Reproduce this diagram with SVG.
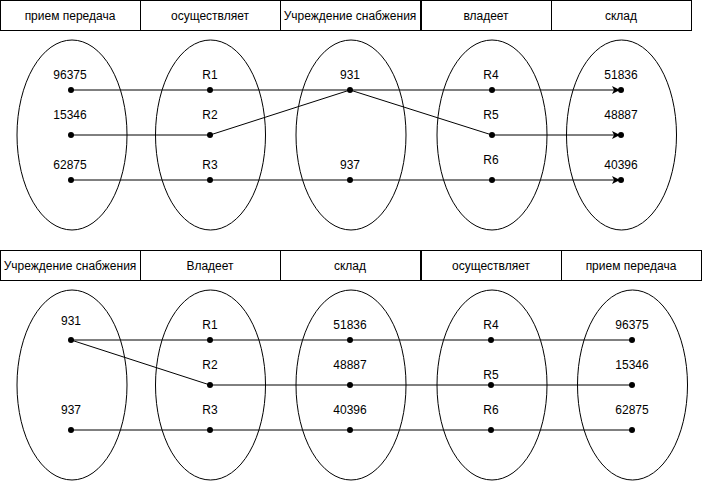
<svg xmlns="http://www.w3.org/2000/svg" width="702" height="481" viewBox="0 0 702 481">
<style>
.b{fill:#fff;stroke:#000;stroke-width:1}
.e{fill:none;stroke:#000;stroke-width:1}
.l{fill:none;stroke:#000;stroke-width:1}
.d{fill:#000}
text{font-family:"Liberation Sans",Arial,sans-serif;font-size:12px;fill:#000;text-anchor:middle}
</style>
<defs>
<marker id="ar" markerWidth="9" markerHeight="9" refX="7" refY="4.5" orient="auto" markerUnits="userSpaceOnUse">
<path d="M0,0.5 L8,4.5 L0,8.5 L2,4.5 Z" fill="#000"/>
</marker>
</defs>
<rect width="702" height="481" fill="#fff"/>
<g id="top-headers">
<g id="h1"><rect class="b" x="0.5" y="0.5" width="140" height="30"/><text x="70" y="20">прием передача</text></g>
<g id="h2"><rect class="b" x="140.5" y="0.5" width="140" height="30"/><text x="210" y="20">осуществляет</text></g>
<g id="h3"><rect class="b" x="280.5" y="0.5" width="140" height="30"/><text x="350" y="20">Учреждение снабжения</text></g>
<g id="h4"><rect class="b" x="421.5" y="0.5" width="130" height="30"/><text x="486" y="20">владеет</text></g>
<g id="h5"><rect class="b" x="551.5" y="0.5" width="140" height="30"/><text x="621" y="20">склад</text></g>
</g>
<g id="bottom-headers">
<g id="bh1"><rect class="b" x="0.5" y="250.5" width="140" height="30"/><text x="70" y="270">Учреждение снабжения</text></g>
<g id="bh2"><rect class="b" x="140.5" y="250.5" width="140" height="30"/><text x="210" y="270">Владеет</text></g>
<g id="bh3"><rect class="b" x="280.5" y="250.5" width="140" height="30"/><text x="350" y="270">склад</text></g>
<g id="bh4"><rect class="b" x="421.5" y="250.5" width="140" height="30"/><text x="491" y="270">осуществляет</text></g>
<g id="bh5"><rect class="b" x="561.5" y="250.5" width="140" height="30"/><text x="631" y="270">прием передача</text></g>
</g>
<g id="top-sets">
<ellipse id="e1" class="e" cx="72" cy="135" rx="55" ry="95"/>
<ellipse id="e2" class="e" cx="210.5" cy="135" rx="55" ry="95"/>
<ellipse id="e3" class="e" cx="351" cy="135" rx="55" ry="95"/>
<ellipse id="e4" class="e" cx="492" cy="135" rx="55" ry="95"/>
<ellipse id="e5" class="e" cx="621.5" cy="135" rx="55" ry="95"/>
</g>
<g id="bottom-sets">
<ellipse id="be1" class="e" cx="72" cy="385" rx="55" ry="95"/>
<ellipse id="be2" class="e" cx="210.5" cy="385" rx="55" ry="95"/>
<ellipse id="be3" class="e" cx="351" cy="385" rx="55" ry="95"/>
<ellipse id="be4" class="e" cx="492" cy="385" rx="55" ry="95"/>
<ellipse id="be5" class="e" cx="632.5" cy="385" rx="55" ry="95"/>
</g>
<g id="connectors">
<path class="l" d="M71,90 H619" marker-end="url(#ar)"/>
<path class="l" d="M71,135 H210 L350,90"/>
<path class="l" d="M350,90 L492,135 H619" marker-end="url(#ar)"/>
<path class="l" d="M71,180 H619" marker-end="url(#ar)"/>
<path class="l" d="M71,340 H632"/>
<path class="l" d="M71,340 L210,385 H632"/>
<path class="l" d="M71,430 H632"/>
</g>
<g id="top-points">
<g id="p96375"><circle class="d" cx="71" cy="90" r="3"/><text x="70" y="79">96375</text></g>
<g id="p15346"><circle class="d" cx="71" cy="135" r="3"/><text x="70" y="119">15346</text></g>
<g id="p62875"><circle class="d" cx="71" cy="180" r="3"/><text x="70" y="169">62875</text></g>
<g id="pR1"><circle class="d" cx="210" cy="90" r="3"/><text x="210" y="79">R1</text></g>
<g id="pR2"><circle class="d" cx="210" cy="135" r="3"/><text x="210" y="119">R2</text></g>
<g id="pR3"><circle class="d" cx="210" cy="180" r="3"/><text x="210" y="169">R3</text></g>
<g id="p931"><circle class="d" cx="350" cy="90" r="3"/><text x="350" y="79">931</text></g>
<g id="p937"><circle class="d" cx="350" cy="180" r="3"/><text x="350" y="169">937</text></g>
<g id="pR4"><circle class="d" cx="492" cy="90" r="3"/><text x="491" y="79">R4</text></g>
<g id="pR5"><circle class="d" cx="492" cy="135" r="3"/><text x="491" y="119">R5</text></g>
<g id="pR6"><circle class="d" cx="492" cy="180" r="3"/><text x="491" y="164">R6</text></g>
<g id="p51836"><circle class="d" cx="621" cy="90" r="3"/><text x="621" y="79">51836</text></g>
<g id="p48887"><circle class="d" cx="621" cy="135" r="3"/><text x="621" y="119">48887</text></g>
<g id="p40396"><circle class="d" cx="621" cy="180" r="3"/><text x="621" y="169">40396</text></g>
</g>
<g id="bottom-points">
<g id="q931"><circle class="d" cx="71" cy="340" r="3"/><text x="71" y="325">931</text></g>
<g id="q937"><circle class="d" cx="71" cy="430" r="3"/><text x="71" y="414">937</text></g>
<g id="qR1"><circle class="d" cx="210" cy="340" r="3"/><text x="210" y="329">R1</text></g>
<g id="qR2"><circle class="d" cx="210" cy="385" r="3"/><text x="210" y="369">R2</text></g>
<g id="qR3"><circle class="d" cx="210" cy="430" r="3"/><text x="210" y="414">R3</text></g>
<g id="q51836"><circle class="d" cx="350" cy="340" r="3"/><text x="350" y="329">51836</text></g>
<g id="q48887"><circle class="d" cx="350" cy="385" r="3"/><text x="350" y="369">48887</text></g>
<g id="q40396"><circle class="d" cx="350" cy="430" r="3"/><text x="350" y="414">40396</text></g>
<g id="qR4"><circle class="d" cx="491" cy="340" r="3"/><text x="491" y="329">R4</text></g>
<g id="qR5"><circle class="d" cx="491" cy="385" r="3"/><text x="491" y="379">R5</text></g>
<g id="qR6"><circle class="d" cx="491" cy="430" r="3"/><text x="491" y="414">R6</text></g>
<g id="q96375"><circle class="d" cx="632" cy="340" r="3"/><text x="632" y="329">96375</text></g>
<g id="q15346"><circle class="d" cx="632" cy="385" r="3"/><text x="632" y="369">15346</text></g>
<g id="q62875"><circle class="d" cx="632" cy="430" r="3"/><text x="632" y="414">62875</text></g>
</g>
</svg>
